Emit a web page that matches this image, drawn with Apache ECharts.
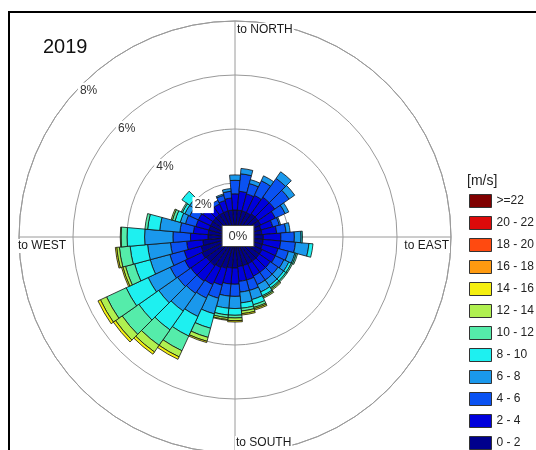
<!DOCTYPE html>
<html>
<head>
<meta charset="utf-8">
<script src="https://cdn.jsdelivr.net/npm/echarts@6/dist/echarts.min.js"></script>
<style>
  html, body { margin: 0; padding: 0; background: #fff; }
  #chart { width: 536px; height: 450px; }
</style>
</head>
<body>
<div id="chart"></div>
<script>
// Wind directions (degrees, clockwise from north), 10-degree sectors
const directions = ['0','10','20','30','40','50','60','70','80','90','100','110',
  '120','130','140','150','160','170','180','190','200','210','220','230',
  '240','250','260','270','280','290','300','310','320','330','340','350'];

// Speed classes [m/s] and their colours
const speedBins = ['0 - 2','2 - 4','4 - 6','6 - 8','8 - 10','10 - 12','12 - 14',
  '14 - 16','16 - 18','18 - 20','20 - 22','>=22'];
const binColors = ['#00008c','#0000dc','#0a52f2','#1a98ec','#1ef0f0','#55ecaa',
  '#b0f050','#f5ef10','#ff9a10','#ff4a10','#dd0a0a','#800000'];

// Frequency [%] of each speed class per direction
const f0_2   = [1.0,1.0,1.0,1.0,1.05,1.05,1.05,1.0,1.0,1.05,1.05,1.05,1.1,1.1,1.1,1.1,1.1,1.1,1.15,1.15,1.2,1.25,1.3,1.3,1.35,1.3,1.2,1.0,1.0,1.0,1.0,1.0,1.0,1.0,1.0,1.0];
const f2_4   = [0.6,0.7,0.65,0.7,0.75,0.75,0.6,0.45,0.55,0.65,0.65,0.6,0.55,0.5,0.5,0.5,0.55,0.55,0.6,0.6,0.65,0.7,0.7,0.7,0.7,0.65,0.6,0.65,0.55,0.5,0.5,0.45,0.35,0.35,0.4,0.45];
const f4_6   = [0.5,0.65,0.4,0.6,0.85,0.65,0.4,0.25,0.35,0.5,0.55,0.4,0.35,0.35,0.35,0.35,0.4,0.4,0.45,0.45,0.5,0.55,0.55,0.6,0.6,0.55,0.6,0.65,0.5,0.4,0.35,0.35,0.15,0.15,0.2,0.25];
const f6_8   = [0.2,0.2,0.15,0.2,0.3,0.25,0.15,0.05,0.15,0.25,0.5,0.25,0.2,0.25,0.25,0.3,0.35,0.4,0.45,0.45,0.6,0.75,0.8,0.85,0.9,0.75,0.85,1.05,0.75,0.2,0.2,0.25,0,0,0.05,0.1];
const f8_10  = [0,0,0,0,0,0,0,0,0,0.05,0.15,0.05,0.1,0.1,0.1,0.15,0.2,0.2,0.25,0.25,0.55,0.8,0.85,0.9,0.9,0.6,0.65,0.65,0.45,0.2,0.1,0.35,0,0,0,0];
const f10_12 = [0,0,0,0,0,0,0,0,0,0,0,0.05,0.05,0.05,0.05,0.05,0.1,0.1,0.1,0.1,0.35,0.6,0.7,0.75,0.8,0.35,0.4,0.22,0.1,0.1,0.05,0,0,0,0,0];
const f12_14 = [0,0,0,0,0,0,0,0,0,0,0,0,0,0,0.05,0.05,0.05,0.1,0.1,0.07,0.15,0.25,0.3,0.3,0.25,0.1,0.1,0.03,0,0.05,0,0,0,0,0,0];
const f14_16 = [0,0,0,0,0,0,0,0,0,0,0,0,0,0,0,0,0.05,0.05,0.05,0.03,0.05,0.1,0.1,0.1,0.1,0.05,0.05,0,0,0,0,0,0,0,0,0];
const f16_18 = [0,0,0,0,0,0,0,0,0,0,0,0,0,0,0,0,0,0,0,0,0,0,0,0,0,0,0,0,0,0,0,0,0,0,0,0];
const f18_20 = [0,0,0,0,0,0,0,0,0,0,0,0,0,0,0,0,0,0,0,0,0,0,0,0,0,0,0,0,0,0,0,0,0,0,0,0];
const f20_22 = [0,0,0,0,0,0,0,0,0,0,0,0,0,0,0,0,0,0,0,0,0,0,0,0,0,0,0,0,0,0,0,0,0,0,0,0];
const f22up  = [0,0,0,0,0,0,0,0,0,0,0,0,0,0,0,0,0,0,0,0,0,0,0,0,0,0,0,0,0,0,0,0,0,0,0,0];
const binData = [f0_2,f2_4,f4_6,f6_8,f8_10,f10_12,f12_14,f14_16,f16_18,f18_20,f20_22,f22up];

// Rings and compass labels
const ringValues = [2, 4, 6, 8];
const ringLabels = ['2%', '4%', '6%', '8%'];
const compass = [
  { text: 'to NORTH', angle: 0 },
  { text: 'to EAST', angle: 90 },
  { text: 'to SOUTH', angle: 180 },
  { text: 'to WEST', angle: 270 }
];
const title = '2019';
const unitLabel = '[m/s]';

const FONT = 'Liberation Sans, Arial, Helvetica, sans-serif';
const CENTER = [235, 237];
const RADIUS = 216;

const chart = echarts.init(document.getElementById('chart'), null, { renderer: 'canvas' });

const series = speedBins.map((name, i) => ({
  name,
  type: 'bar',
  coordinateSystem: 'polar',
  polarIndex: 0,
  stack: 'rose',
  barCategoryGap: '0%',
  data: binData[i].map(v => (v > 0 ? v : null)),
  itemStyle: { color: binColors[i], borderColor: '#111', borderWidth: 0.8 },
  emphasis: { disabled: true },
  silent: true,
  z: 3
}));

chart.setOption({
  animation: false,
  backgroundColor: '#fff',
  polar: [
    { center: CENTER, radius: [0, RADIUS] },
    { center: CENTER, radius: [0, RADIUS] }
  ],
  angleAxis: [
    {
      polarIndex: 0, type: 'category', data: directions, startAngle: 95, clockwise: true,
      axisLine: { show: false }, axisTick: { show: false }, axisLabel: { show: false },
      splitLine: { show: false }
    },
    {
      polarIndex: 1, type: 'value', min: 0, max: 360, interval: 90, startAngle: 90, clockwise: true,
      axisLine: { show: true, lineStyle: { color: '#9a9a9a', width: 1 } },
      axisTick: { show: false }, axisLabel: { show: false },
      splitLine: { show: true, lineStyle: { color: '#9a9a9a', width: 1 } }
    }
  ],
  radiusAxis: [
    {
      polarIndex: 0, type: 'value', min: 0, max: 8, interval: 2,
      axisLine: { show: false }, axisTick: { show: false }, axisLabel: { show: false },
      splitLine: { show: false }
    },
    {
      polarIndex: 1, type: 'value', min: 0, max: 8, interval: 2,
      axisLine: { show: false }, axisTick: { show: false }, axisLabel: { show: false },
      splitLine: { show: true, lineStyle: { color: '#9a9a9a', width: 1 } }
    }
  ],
  legend: {
    data: speedBins.slice().reverse(),
    orient: 'vertical',
    left: 469,
    top: 194,
    height: 270,
    padding: 0,
    itemWidth: 22,
    itemHeight: 13,
    itemGap: 8,
    icon: 'rect',
    selectedMode: false,
    itemStyle: { borderColor: '#333', borderWidth: 1 },
    textStyle: { fontFamily: FONT, fontSize: 12, color: '#222' }
  },
  series
});

// Annotations placed through the polar coordinate system
const toPx = (r, a) => chart.convertToPixel({ polarIndex: 1 }, [r, a]);
const graphics = [];

// frame
graphics.push({
  type: 'rect', shape: { x: 9, y: 12, width: 540, height: 450 },
  style: { fill: null, stroke: '#000', lineWidth: 2 }, z: 1
});

// ring percentages along the upper-left diagonal
ringValues.forEach((v, i) => {
  const p = toPx(v - 0.33, 315);
  graphics.push({
    type: 'text', x: p[0], y: p[1], z: 20,
    style: {
      text: ringLabels[i], font: '12px ' + FONT, fill: '#333',
      align: 'center', verticalAlign: 'middle',
      backgroundColor: '#fff', padding: [2, 2]
    }
  });
});

// compass labels at the outer ring
compass.forEach(c => {
  const p = toPx(8, c.angle);
  let x = p[0], y = p[1], align = 'left', va = 'top';
  if (c.angle === 0) { x += 1; y += 2; }
  if (c.angle === 180) { x += 0; y -= 3; va = 'bottom'; }
  if (c.angle === 270) { x -= 2; y += 2; }
  if (c.angle === 90) { x -= 1; y += 2; align = 'right'; }
  graphics.push({
    type: 'text', x, y, z: 20,
    style: {
      text: c.text, font: '12px ' + FONT, fill: '#1a1a1a',
      align, verticalAlign: va, backgroundColor: '#fff', padding: [1, 1]
    }
  });
});

// centre box
const c0 = toPx(0, 0);
graphics.push({
  type: 'text', x: c0[0] + 3, y: c0[1] - 1, z: 20,
  style: {
    text: '0%', font: '13px ' + FONT, fill: '#333',
    align: 'center', verticalAlign: 'middle',
    backgroundColor: '#fff', borderColor: '#444', borderWidth: 1,
    padding: [4, 6, 3, 6]
  }
});

// title and unit
graphics.push({
  type: 'text', x: 43, y: 37, z: 20,
  style: { text: title, font: '20px ' + FONT, fill: '#111', align: 'left', verticalAlign: 'top' }
});
graphics.push({
  type: 'text', x: 467, y: 174, z: 20,
  style: { text: unitLabel, font: '14px ' + FONT, fill: '#222', align: 'left', verticalAlign: 'top' }
});

chart.setOption({ graphic: graphics });
</script>
</body>
</html>
